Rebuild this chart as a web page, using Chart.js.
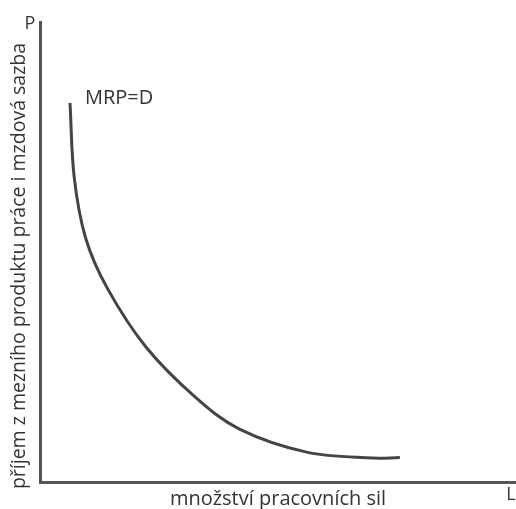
<!DOCTYPE html>
<html>
<head>
<meta charset="utf-8">
<script src="https://cdn.jsdelivr.net/npm/chart.js@4/dist/chart.umd.min.js"></script>
<style>
  html, body { margin: 0; padding: 0; background: #fff; }
  #wrap { width: 516px; height: 509px; }
</style>
</head>
<body>
<div id="wrap"><canvas id="graf"></canvas></div>
<script>
// množství pracovních sil (L) a mzdová sazba (P)
const mnozstvi = [6.3, 7.2, 9.6, 14.1, 22.3, 32.8, 41.9, 56.0, 69.9, 75.6];
const sazba = [82.4, 66.1, 53.0, 42.2, 29.3, 18.3, 11.5, 6.5, 5.2, 5.3];
const nazevKrivky = 'MRP=D';
const popisX = 'množství pracovních sil';
const popisY = 'příjem z mezního produktu práce i mzdová sazba';

const barva = '#444';
const pismo = '"Open Sans", sans-serif';

// popisky P, L, MRP=D a svislý popis osy
const popisky = {
  id: 'popisky',
  afterDraw(chart) {
    const ctx = chart.ctx;
    const area = chart.chartArea;
    const x = chart.scales.x, y = chart.scales.y;
    ctx.save();
    ctx.fillStyle = '#333';
    ctx.font = '18px ' + pismo;
    ctx.textBaseline = 'middle';
    ctx.textAlign = 'center';
    ctx.fillText('P', area.left - 10, area.top + 2);
    ctx.fillText('L', area.right - 5, area.bottom + 13);
    // název křivky u jejího začátku
    ctx.textAlign = 'left';
    ctx.font = '20px ' + pismo;
    ctx.fillText(nazevKrivky, x.getPixelForValue(mnozstvi[0]) + 15, y.getPixelForValue(sazba[0]) - 5);
    // popis svislé osy
    ctx.translate(19, (area.top + area.bottom) / 2 + 14);
    ctx.rotate(-Math.PI / 2);
    ctx.textAlign = 'center';
    ctx.font = '19.5px ' + pismo;
    ctx.fillText(popisY, 0, 0);
    ctx.restore();
  }
};

const ctx = document.getElementById('graf').getContext('2d');
const graf = new Chart(ctx, {
  type: 'line',
  data: {
    datasets: [{
      label: nazevKrivky,
      data: mnozstvi.map((v, i) => ({ x: v, y: sazba[i] })),
      borderColor: barva,
      borderWidth: 3,
      pointRadius: 0,
      tension: 0.35,
      fill: false
    }]
  },
  options: {
    responsive: true,
    maintainAspectRatio: false,
    animation: false,
    layout: { padding: { top: 22, left: 40, right: 0, bottom: 0 } },
    plugins: {
      legend: { display: false },
      tooltip: { enabled: false }
    },
    scales: {
      x: {
        type: 'linear',
        min: 0,
        max: 100,
        grid: { display: false, drawTicks: false },
        ticks: { display: false },
        border: { color: '#555', width: 3 },
        title: {
          display: true,
          text: popisX,
          color: '#333',
          font: { family: pismo, size: 20, lineHeight: 1 },
          padding: { top: 7, bottom: 0 }
        }
      },
      y: {
        type: 'linear',
        min: 0,
        max: 100,
        grid: { display: false, drawTicks: false },
        ticks: { display: false },
        border: { color: '#555', width: 3 }
      }
    }
  },
  plugins: [popisky]
});
</script>
</body>
</html>
